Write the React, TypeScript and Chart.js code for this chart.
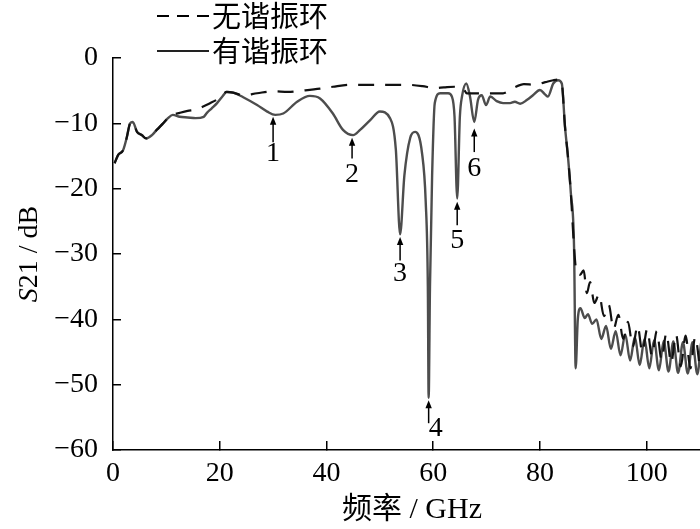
import React, { useEffect, useRef } from 'react';
import { Chart, registerables } from 'chart.js';

Chart.register(...registerables);

// 有谐振环 (with resonator ring) — frequency (GHz) / S21 (dB)
const solidX = [0.3, 1.0, 1.9, 2.6, 3.2, 3.7, 4.5, 5.4, 6.2, 7.3, 8.2, 9.4, 10.3, 11.2, 12.5, 14, 15.5, 17, 17.6, 18.5, 19.5, 20.5, 21.3, 22.5, 24.4, 27, 28.9, 30.4, 31.9, 34.5, 36.9, 38.8, 41.2, 43.1, 45, 46.3, 48.2, 50, 51.9, 53, 53.8, 54.6, 55.7, 56.6, 57.9, 58.6, 59.0, 59.15, 59.4, 59.8, 60.3, 61.3, 62.8, 63.5, 64, 64.5, 65, 65.4, 66.2, 66.9, 67.7, 68.4, 69.1, 69.9, 70.7, 71.9, 73.1, 74.4, 75.3, 76.3, 77.6, 78.7, 80, 81, 81.5, 82.5, 83.4, 84.1, 84.7, 85.3, 85.8, 86.4, 86.7, 87.1, 87.6, 88.4, 89.0, 89.8, 90.6, 91.5, 92.4, 93.3, 94.2, 95.1, 96, 96.9, 97.8, 98.7, 99.6, 100.5, 101.4, 102.3, 103.2, 104.1, 105, 105.9, 106.8, 107.7, 108.6, 109.5, 110.2];
const solidY = [-16.1, -14.8, -14.1, -12.1, -10, -9.8, -11.3, -11.8, -12.3, -11.8, -11, -10, -9.2, -8.7, -9.0, -9.1, -9.2, -9.0, -8.4, -7.7, -6.9, -5.9, -5.2, -5.3, -6, -7.2, -8.2, -8.7, -8.5, -6.7, -5.8, -6.2, -8.5, -11, -11.8, -11, -9.5, -8.2, -9.2, -14, -27, -18, -12.2, -11.3, -14.5, -22, -35, -52, -35, -18, -6.9, -5.4, -5.4, -5.9, -9, -21.5, -9, -5.9, -3.9, -5.9, -9.8, -6.4, -5.7, -7.2, -5.9, -6.6, -6.9, -6.9, -6.7, -7, -6.4, -5.7, -4.9, -5.6, -5.9, -3.9, -3.4, -3.9, -10.5, -15.5, -20.7, -29, -47.5, -40, -38.3, -39.8, -39.2, -40.7, -40, -43, -41, -44.5, -41.8, -45.5, -42.3, -46.3, -42.7, -47, -43, -47.5, -43.2, -47.8, -43.3, -48, -43.4, -48.2, -43.5, -48.3, -43.5, -48.4, -43.6];

// 无谐振环 (without resonator ring)
const dashX = [0.3, 1.0, 1.9, 2.6, 3.2, 3.7, 4.5, 5.4, 6.2, 7.3, 8.2, 9.4, 10.3, 11.2, 12.5, 14, 15.5, 16.7, 18, 20, 21.3, 22.5, 24.4, 27, 30, 32.8, 35.4, 38.8, 41.2, 44.4, 47, 50, 55, 58, 60.3, 62, 64, 65.6, 66.3, 70, 73.1, 75, 77, 79, 81, 82.5, 83.4, 84.1, 84.7, 85.3, 85.8, 86.4, 86.8, 87.5, 88.2, 88.8, 89.4, 90.2, 91.1, 92, 92.9, 93.8, 94.7, 95.6, 96.5, 97.4, 98.3, 99.2, 100.1, 101, 101.9, 102.8, 103.7, 104.6, 105.5, 106.4, 107.3, 108.2, 109.1, 110];
const dashY = [-16.1, -14.8, -14.1, -12.1, -10, -9.8, -11.3, -11.8, -12.3, -11.8, -11, -10, -9.2, -8.7, -8.4, -8.1, -7.9, -7.5, -7.0, -6.1, -5.2, -5.3, -5.7, -5.4, -5.1, -5.2, -5.0, -4.7, -4.4, -4.1, -4.1, -4.1, -4.1, -4.3, -4.6, -4.5, -4.4, -4.6, -5.4, -5.4, -5.4, -4.6, -4.0, -4.1, -3.7, -3.4, -3.3, -3.9, -10.5, -15.5, -20.7, -29, -32.5, -33.2, -32.5, -36, -34.3, -37.5, -36.2, -39.5, -37.8, -41.5, -39.3, -43, -40.4, -44.2, -41, -45, -41.5, -45.6, -41.8, -46.2, -42.1, -46.7, -42.3, -47.2, -42.5, -47.5, -42.7, -47.6];

const legendLabels = ['无谐振环', '有谐振环'];
const xTitle = '频率 / GHz';
const yTitleItalic = 'S';
const yTitleRest = '21 / dB';

// numbered resonance markers
const markerLabels = ['1', '2', '3', '4', '5', '6'];
const markerX = [30, 44.8, 53.8, 59.15, 64.5, 67.7];
const markerTip = [-9.0, -12.2, -27.4, -52.4, -22.0, -10.8];
const markerTail = [-12.9, -15.4, -31.0, -55.9, -25.6, -14.4];
const markerLabelX = [30, 44.8, 53.8, 60.5, 64.5, 67.7];
const markerLabelY = [-14.6, -17.8, -33.0, -56.7, -27.9, -17.0];

const SERIF = '"Liberation Serif", "Times New Roman", serif';
const CJK = '"Liberation Serif", "Noto Sans CJK SC", serif';

const overlayPlugin = {
  id: 'overlay',
  afterDatasetsDraw(chart: any) {
    const { ctx } = chart;
    const xs = chart.scales.x;
    const ys = chart.scales.y;
    ctx.save();
    ctx.strokeStyle = '#000';
    ctx.fillStyle = '#000';
    ctx.lineWidth = 1.5;
    for (let i = 0; i < markerLabels.length; i++) {
      const px = xs.getPixelForValue(markerX[i]);
      const tip = ys.getPixelForValue(markerTip[i]);
      const tail = ys.getPixelForValue(markerTail[i]);
      ctx.beginPath();
      ctx.moveTo(px, tail);
      ctx.lineTo(px, tip + 6);
      ctx.stroke();
      ctx.beginPath();
      ctx.moveTo(px, tip);
      ctx.lineTo(px - 3.2, tip + 8);
      ctx.lineTo(px + 3.2, tip + 8);
      ctx.closePath();
      ctx.fill();
      ctx.font = `28px ${SERIF}`;
      ctx.textAlign = 'center';
      ctx.textBaseline = 'middle';
      ctx.fillText(markerLabels[i], xs.getPixelForValue(markerLabelX[i]), ys.getPixelForValue(markerLabelY[i]));
    }
    ctx.restore();
  },
  afterDraw(chart: any) {
    const { ctx, chartArea } = chart;
    ctx.save();
    ctx.fillStyle = '#000';
    // legend
    const rows = [16, 51];
    ctx.lineWidth = 2;
    ctx.strokeStyle = '#000';
    ctx.setLineDash([12, 8]);
    ctx.beginPath();
    ctx.moveTo(157, rows[0]);
    ctx.lineTo(209, rows[0]);
    ctx.stroke();
    ctx.setLineDash([]);
    ctx.strokeStyle = '#222';
    ctx.beginPath();
    ctx.moveTo(157, rows[1]);
    ctx.lineTo(209, rows[1]);
    ctx.stroke();
    ctx.font = `29px "Noto Sans CJK SC", sans-serif`;
    ctx.textAlign = 'left';
    ctx.textBaseline = 'middle';
    ctx.fillText(legendLabels[0], 212, rows[0]);
    ctx.fillText(legendLabels[1], 212, rows[1]);

    // x title
    ctx.font = `30px ${CJK}`;
    ctx.textAlign = 'center';
    ctx.fillText(xTitle, 412, 510);

    // y title (rotated, italic S)
    const cy = (chartArea.top + chartArea.bottom) / 2;
    ctx.translate(30, cy);
    ctx.rotate(-Math.PI / 2);
    ctx.font = `italic 28px ${SERIF}`;
    const w1 = ctx.measureText(yTitleItalic).width;
    ctx.font = `28px ${SERIF}`;
    const w2 = ctx.measureText(yTitleRest).width;
    const start = -(w1 + w2) / 2;
    ctx.textAlign = 'left';
    ctx.font = `italic 28px ${SERIF}`;
    ctx.fillText(yTitleItalic, start, 0);
    ctx.font = `28px ${SERIF}`;
    ctx.fillText(yTitleRest, start + w1, 0);
    ctx.restore();
  },
};

export default function App() {
  const canvasRef = useRef<HTMLCanvasElement | null>(null);

  useEffect(() => {
    if (!canvasRef.current) return;
    const chart = new Chart(canvasRef.current, {
      type: 'line',
      data: {
        datasets: [
          {
            label: legendLabels[0],
            data: dashX.map((x, i) => ({ x, y: dashY[i] })),
            borderColor: '#111',
            borderWidth: 2.2,
            borderDash: [16, 11],
            pointRadius: 0,
            cubicInterpolationMode: 'monotone',
            order: 0,
          },
          {
            label: legendLabels[1],
            data: solidX.map((x, i) => ({ x, y: solidY[i] })),
            borderColor: '#4d4d4d',
            borderWidth: 2.4,
            pointRadius: 0,
            cubicInterpolationMode: 'monotone',
            order: 1,
          },
        ],
      },
      options: {
        animation: false,
        responsive: false,
        devicePixelRatio: 1,
        layout: { padding: { top: 58, left: 0, right: 0, bottom: 0 } },
        plugins: { legend: { display: false }, tooltip: { enabled: false } },
        scales: {
          x: {
            type: 'linear',
            min: 0,
            max: 110,
            ticks: {
              stepSize: 20,
              includeBounds: false,
              maxRotation: 0,
              autoSkip: false,
              padding: 16,
              color: '#000',
              font: { family: SERIF, size: 28 },
            },
            grid: { drawOnChartArea: false, drawTicks: true, tickLength: -9, color: '#000', lineWidth: 1.5 },
            border: { display: true, color: '#000', width: 1.5 },
            afterFit: (s: any) => { s.height = 79; },
          },
          y: {
            type: 'linear',
            min: -60,
            max: 0,
            ticks: {
              stepSize: 10,
              padding: 23,
              color: '#000',
              font: { family: SERIF, size: 28 },
              callback: (v: any) => String(v).replace('-', '\u2212'),
            },
            grid: { drawOnChartArea: false, drawTicks: true, tickLength: -8, color: '#000', lineWidth: 1.5 },
            border: { display: true, color: '#000', width: 1.5 },
            afterFit: (s: any) => { s.width = 113; },
          },
        },
      },
      plugins: [overlayPlugin],
    } as any);
    return () => chart.destroy();
  }, []);

  return (
    <div style={{ position: 'absolute', left: 0, top: 0, width: 700, height: 529, background: '#fff' }}>
      <canvas ref={canvasRef} width={700} height={529} style={{ width: 700, height: 529, display: 'block' }} />
    </div>
  );
}
